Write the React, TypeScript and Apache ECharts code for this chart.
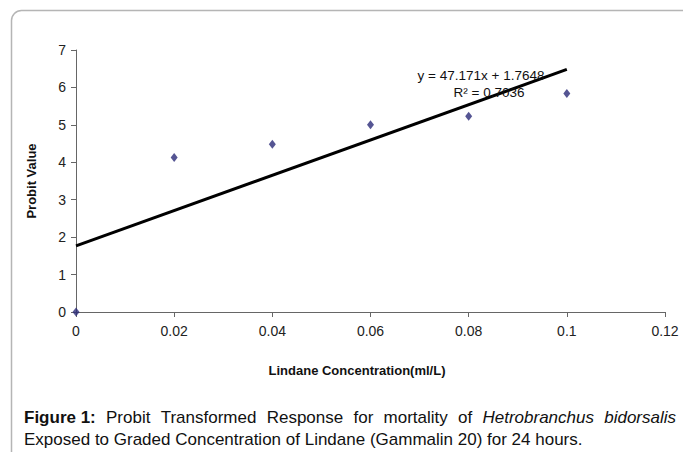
import React, { useEffect, useRef } from "react";
import * as echarts from "echarts";

const concentrations = [0, 0.02, 0.04, 0.06, 0.08, 0.1];
const probitValues = [0, 4.13, 4.48, 5.0, 5.23, 5.84];
const slope = 47.171;
const intercept = 1.7648;
const trendX = [0, 0.1];
const equationText = "y = 47.171x + 1.7648";
const r2Text = "R² = 0.7036";
const xTitle = "Lindane Concentration(ml/L)";
const yTitle = "Probit Value";
const captionLine1 = [
  { t: "Figure 1:", s: "bold" },
  { t: "Probit", s: "" },
  { t: "Transformed", s: "" },
  { t: "Response", s: "" },
  { t: "for", s: "" },
  { t: "mortality", s: "" },
  { t: "of", s: "" },
  { t: "Hetrobranchus", s: "italic" },
  { t: "bidorsalis", s: "italic" },
];
const captionLine2 = "Exposed to Graded Concentration of Lindane (Gammalin 20) for 24 hours.";

export default function App() {
  const ref = useRef<HTMLDivElement>(null);
  useEffect(() => {
    const chart = echarts.init(ref.current!, null, { renderer: "svg" });
    const font = "'Liberation Sans', Arial, sans-serif";
    const capSize = 17;
    const capLeft = 24;
    const capRight = 676;
    const canvas = document.createElement("canvas");
    const ctx = canvas.getContext("2d")!;
    const widths = captionLine1.map((w) => {
      ctx.font = `${w.s} ${capSize}px ${font}`.trim();
      return ctx.measureText(w.t).width;
    });
    const total = widths.reduce((a, b) => a + b, 0);
    const gap = (capRight - capLeft - total) / (captionLine1.length - 1);
    let cx = capLeft;
    const captionEls = captionLine1.map((w, i) => {
      const el = {
        type: "text",
        x: cx,
        y: 417,
        style: {
          text: w.t,
          font: `${w.s} ${capSize}px ${font}`.trim(),
          fill: "#111",
          verticalAlign: "middle",
        },
      };
      cx += widths[i] + gap;
      return el;
    });
    chart.setOption({
      animation: false,
      backgroundColor: "#fff",
      grid: { left: 76, right: 18, top: 50, bottom: 140, containLabel: false },
      xAxis: {
        type: "value",
        min: 0,
        max: 0.12,
        interval: 0.02,
        axisLine: { show: true, onZero: false, lineStyle: { color: "#666", width: 1 } },
        axisTick: { show: true, length: 5, lineStyle: { color: "#666" } },
        splitLine: { show: false },
        axisLabel: {
          color: "#222",
          fontSize: 14,
          fontFamily: font,
          margin: 12,
          formatter: (v: number) => String(parseFloat(v.toFixed(2))),
        },
      },
      yAxis: {
        type: "value",
        min: 0,
        max: 7,
        interval: 1,
        axisLine: { show: true, lineStyle: { color: "#666", width: 1 } },
        axisTick: { show: true, length: 5, lineStyle: { color: "#666" } },
        splitLine: { show: false },
        axisLabel: { color: "#222", fontSize: 14, fontFamily: font, margin: 10 },
        name: yTitle,
        nameLocation: "middle",
        nameGap: 38,
        nameTextStyle: { fontFamily: font, fontWeight: "bold", fontSize: 13, color: "#111" },
      },
      series: [
        {
          type: "line",
          data: trendX.map((x) => [x, slope * x + intercept]),
          symbol: "none",
          lineStyle: { color: "#000", width: 3 },
          z: 2,
        },
        {
          type: "scatter",
          data: concentrations.map((x, i) => [x, probitValues[i]]),
          symbol: "diamond",
          symbolSize: [7, 9],
          itemStyle: { color: "#2a2a78" },
          z: 3,
        },
      ],
      graphic: [
        {
          type: "rect",
          shape: { x: 11.5, y: 10.5, width: 720, height: 500, r: 10 },
          style: { fill: "none", stroke: "#b5b5b5", lineWidth: 1.5 },
          silent: true,
        },
        {
          type: "text",
          x: 357,
          y: 370,
          style: {
            text: xTitle,
            font: `bold 13px ${font}`,
            fill: "#111",
            align: "center",
            verticalAlign: "middle",
          },
        },
        {
          type: "text",
          x: 481,
          y: 75,
          style: {
            text: equationText,
            font: `13.5px ${font}`,
            fill: "#111",
            align: "center",
            verticalAlign: "middle",
          },
          z: 10,
        },
        {
          type: "text",
          x: 489,
          y: 92,
          style: {
            text: r2Text,
            font: `13.5px ${font}`,
            fill: "#111",
            align: "center",
            verticalAlign: "middle",
          },
          z: 10,
        },
        ...captionEls,
        {
          type: "text",
          x: capLeft,
          y: 439,
          style: {
            text: captionLine2,
            font: `${capSize}px ${font}`,
            fill: "#111",
            verticalAlign: "middle",
          },
        },
      ],
    });
    return () => chart.dispose();
  }, []);
  return (
    <div
      ref={ref}
      style={{ position: "absolute", left: 0, top: 0, width: 683, height: 452 }}
    />
  );
}
